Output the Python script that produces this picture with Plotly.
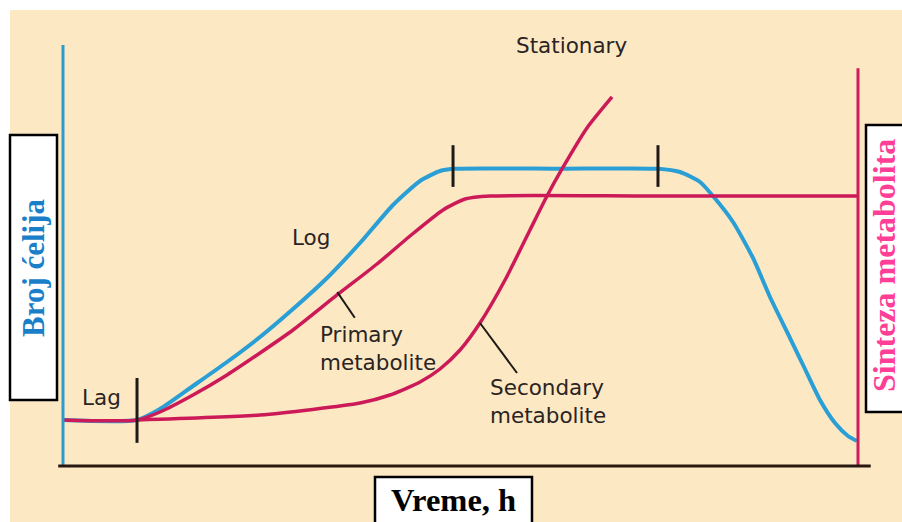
import plotly.graph_objects as go

# time runs 0..100 between the two vertical axes, level 0..100 from baseline to top of left axis
blue_x = [0, 9.31, 12.20, 16.35, 20.63, 24.78, 28.93, 33.21, 37.36, 41.51, 44.91, 47.42, 49.06, 62.52, 74.84,
          77.61, 80.13, 81.76, 84.28, 86.79, 88.93, 91.45, 93.33, 95.22, 97.11, 98.74, 99.87]
blue_y = [10.93, 10.93, 13.54, 19.00, 24.70, 30.64, 37.29, 44.66, 52.97, 62.00, 67.70, 70.07, 70.6, 70.6, 70.6,
          69.83, 67.46, 64.13, 57.96, 49.41, 40.14, 30.40, 23.04, 15.68, 10.21, 7.13, 5.94]

primary_x = [0, 9.31, 12.20, 16.35, 20.63, 24.78, 28.93, 34.47, 39.50, 43.65, 47.80, 50.57, 53.71, 73.84, 100]
primary_y = [10.93, 10.93, 12.83, 16.86, 21.62, 26.84, 32.30, 40.62, 47.98, 54.63, 60.81, 63.42, 64.13, 64.13, 64.13]

secondary_x = [9.31, 24.78, 37.36, 41.13, 44.91, 47.42, 49.94, 52.45, 55.60, 58.74, 60.88, 62.77, 65.91, 69.06]
secondary_y = [10.93, 12.11, 14.96, 16.86, 19.95, 23.04, 27.55, 33.97, 44.18, 56.06, 64.13, 70.55, 80.29, 87.65]

# phase boundary ticks
lag_tick_x = [9.31, 9.31]
lag_tick_y = [5.5, 20.9]
stat_ticks_x = [49.06, 74.84]
stat_tick_y = [66.3, 76.2]

# leader lines from curve to label
primary_lead_x = [34.5, 36.7]
primary_lead_y = [41.3, 35.2]
secondary_lead_x = [52.45, 57.11]
secondary_lead_y = [33.97, 22.09]

labels = ["Lag", "Log", "Primary<br>metabolite", "Secondary<br>metabolite", "Stationary"]
label_x = [4.8, 31.2, 32.1, 53.5, 63.9]
label_y = [16.2, 54.2, 28.0, 15.4, 99.8]
label_anchor = ["center", "center", "left", "left", "center"]

W, H = 902, 522
BLUE = "#2a9fd6"
CRIMSON = "#cc1a58"
INK = "#2a2422"


def px(x):
    return x / W


def py(y):
    return 1 - y / H


fig = go.Figure()

fig.add_trace(go.Scatter(x=blue_x, y=blue_y, mode="lines",
                         line=dict(color=BLUE, width=4, shape="spline", smoothing=0.6)))
fig.add_trace(go.Scatter(x=secondary_x, y=secondary_y, mode="lines",
                         line=dict(color=CRIMSON, width=3.5, shape="spline", smoothing=0.6)))
fig.add_trace(go.Scatter(x=primary_x, y=primary_y, mode="lines",
                         line=dict(color=CRIMSON, width=3.5, shape="spline", smoothing=0.6)))

fig.add_trace(go.Scatter(x=lag_tick_x, y=lag_tick_y, mode="lines", line=dict(color="#1e1a18", width=3)))
for tx in stat_ticks_x:
    fig.add_trace(go.Scatter(x=[tx, tx], y=stat_tick_y, mode="lines", line=dict(color="#1e1a18", width=3)))
fig.add_trace(go.Scatter(x=primary_lead_x, y=primary_lead_y, mode="lines", line=dict(color="#1e1a18", width=2)))
fig.add_trace(go.Scatter(x=secondary_lead_x, y=secondary_lead_y, mode="lines", line=dict(color="#1e1a18", width=2)))

for t, x, y, a in zip(labels, label_x, label_y, label_anchor):
    fig.add_annotation(x=x, y=y, text=t, showarrow=False, xanchor=a, yanchor="middle", align="left",
                       font=dict(family="DejaVu Sans", size=21.5, color=INK))

shapes = [
    # cream background
    dict(type="rect", xref="paper", yref="paper", x0=px(10), x1=1, y0=0, y1=py(10),
         fillcolor="#fde8c4", line=dict(width=0), layer="below"),
    # axes
    dict(type="line", xref="x", yref="y", x0=0, x1=0, y0=0, y1=100, line=dict(color="#2c9ccb", width=3)),
    dict(type="line", xref="x", yref="y", x0=100, x1=100, y0=0, y1=94.5, line=dict(color="#cc1f5a", width=3)),
    dict(type="line", xref="x", yref="y", x0=-0.6, x1=101.6, y0=0, y1=0, line=dict(color="#2a1810", width=3)),
    # label boxes
    dict(type="rect", xref="paper", yref="paper", x0=px(10), x1=px(57), y0=py(400), y1=py(135),
         fillcolor="white", line=dict(color="black", width=2.5)),
    dict(type="rect", xref="paper", yref="paper", x0=px(866), x1=px(910), y0=py(412), y1=py(125),
         fillcolor="white", line=dict(color="black", width=2.5)),
    dict(type="rect", xref="paper", yref="paper", x0=px(375), x1=px(532), y0=py(530), y1=py(477),
         fillcolor="white", line=dict(color="black", width=2.5)),
]

fig.add_annotation(xref="paper", yref="paper", x=px(33), y=py(268), text="<b>Broj ćelija</b>",
                   textangle=-90, showarrow=False, xanchor="center", yanchor="middle",
                   font=dict(family="Liberation Serif, Times New Roman", size=31, color="#1a7fc8"))
fig.add_annotation(xref="paper", yref="paper", x=px(884), y=py(266), text="<b>Sinteza metabolita</b>",
                   textangle=-90, showarrow=False, xanchor="center", yanchor="middle",
                   font=dict(family="Liberation Serif, Times New Roman", size=32, color="#ff3f97"))
fig.add_annotation(xref="paper", yref="paper", x=px(453), y=py(500), text="<b>Vreme, h</b>",
                   showarrow=False, xanchor="center", yanchor="middle",
                   font=dict(family="Liberation Serif, Times New Roman", size=32.5, color="black"))

fig.update_layout(
    width=W, height=H,
    margin=dict(l=0, r=0, t=0, b=0),
    paper_bgcolor="white",
    plot_bgcolor="rgba(0,0,0,0)",
    showlegend=False,
    shapes=shapes,
    xaxis=dict(range=[-63 / 7.95, (W - 63) / 7.95], visible=False, fixedrange=True),
    yaxis=dict(range=[(466 - H) / 4.21, 466 / 4.21], visible=False, fixedrange=True),
)

fig.write_html("out.html", config={"displayModeBar": False},
               post_script="document.body.style.margin='0px';")
